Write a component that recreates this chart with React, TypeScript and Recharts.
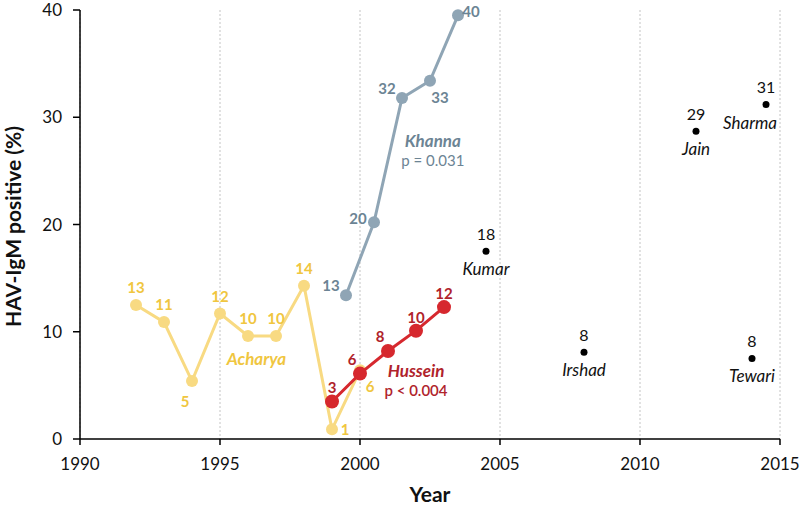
import React from "react";
import {
  CartesianGrid,
  ComposedChart,
  ReferenceDot,
  Scatter,
  XAxis,
  YAxis,
} from "recharts";

// Acharya series (yellow)
const ACHARYA_YEARS = [1992, 1993, 1994, 1995, 1996, 1997, 1998, 1999, 2000];
const ACHARYA_VALUES = [12.5, 10.9, 5.4, 11.7, 9.6, 9.6, 14.3, 0.9, 6.4];
const ACHARYA_LABELS = [13, 11, 5, 12, 10, 10, 14, 1, 6];
const ACHARYA_PLACE = ["above", "above", "belowLeft", "above", "above", "above", "above", "right", "belowRight"];

// Khanna series (slate)
const KHANNA_YEARS = [1999.5, 2000.5, 2001.5, 2002.5, 2003.5];
const KHANNA_VALUES = [13.4, 20.2, 31.8, 33.4, 39.5];
const KHANNA_LABELS = [13, 20, 32, 33, 40];
const KHANNA_PLACE = ["upLeft", "left", "upLeft", "belowRight", "rightHigh"];

// Hussein series (red)
const HUSSEIN_YEARS = [1999, 2000, 2001, 2002, 2003];
const HUSSEIN_VALUES = [3.5, 6.1, 8.2, 10.1, 12.3];
const HUSSEIN_LABELS = [3, 6, 8, 10, 12];
const HUSSEIN_PLACE = ["aboveTight", "upLeftTight", "upLeftTight", "aboveTight", "aboveTight"];

// single studies (black)
const STUDY_NAMES = ["Kumar", "Irshad", "Jain", "Sharma", "Tewari"];
const STUDY_YEARS = [2004.5, 2008, 2012, 2014.5, 2014];
const STUDY_VALUES = [17.5, 8.1, 28.7, 31.2, 7.5];
const STUDY_LABELS = [18, 8, 29, 31, 8];
const STUDY_NAME_PLACE = ["nameBelow", "nameBelow", "nameBelow", "nameBelowLeft", "nameBelow"];

const X_TICKS = [1990, 1995, 2000, 2005, 2010, 2015];
const Y_TICKS = [0, 10, 20, 30, 40];

const FONT = "Lato, 'Open Sans', sans-serif";

const OFFSETS: Record<string, [number, number]> = {
  above: [0, -18],
  aboveTight: [0, -14],
  belowLeft: [-7, 20],
  belowRight: [10, 16],
  right: [13, 0],
  left: [-16, -4],
  upLeft: [-15, -10],
  upLeftTight: [-8, -15],
  rightHigh: [13, -4],
  nameBelow: [0, 17],
  nameBelowLeft: [-16, 18],
};

const toPoints = (xs: number[], ys: number[]) => xs.map((x, i) => ({ x, y: ys[i] }));

function makeShape(
  years: number[],
  labels: number[],
  places: string[],
  dotColor: string,
  textColor: string,
  r: number,
) {
  return (props: any) => {
    const { cx, cy, payload } = props;
    const i = years.indexOf(payload.x);
    const [dx, dy] = OFFSETS[places[i]] || [0, -18];
    return (
      <g>
        <circle cx={cx} cy={cy} r={r} fill={dotColor} />
        <text
          x={cx + dx}
          y={cy + dy}
          textAnchor="middle"
          dominantBaseline="central"
          fill={textColor}
          fontSize={15}
          fontWeight={700}
          fontFamily={FONT}
        >
          {labels[i]}
        </text>
      </g>
    );
  };
}

function studyShape(props: any) {
  const { cx, cy, payload } = props;
  const i = STUDY_YEARS.indexOf(payload.x);
  const [dx, dy] = OFFSETS[STUDY_NAME_PLACE[i]];
  return (
    <g fontFamily={FONT} fontSize={16} fill="#111">
      <circle cx={cx} cy={cy} r={3.5} fill="#000" />
      <text x={cx} y={cy - 18} textAnchor="middle" dominantBaseline="central">
        {STUDY_LABELS[i]}
      </text>
      <text
        x={cx + dx}
        y={cy + dy}
        textAnchor="middle"
        dominantBaseline="central"
        fontStyle="italic"
        fontSize={17}
      >
        {STUDY_NAMES[i]}
      </text>
    </g>
  );
}

function note(text: string, color: string, size: number, weight: number, italic: boolean) {
  return (p: any) => (
    <text
      x={p.cx}
      y={p.cy}
      textAnchor="middle"
      dominantBaseline="central"
      fill={color}
      fontSize={size}
      fontWeight={weight}
      fontStyle={italic ? "italic" : "normal"}
      fontFamily={FONT}
    >
      {text}
    </text>
  );
}

function YLabel(props: any) {
  const { viewBox } = props;
  const x = viewBox.x + 12;
  const y = viewBox.y + viewBox.height / 2 + 2;
  return (
    <text
      x={x}
      y={y}
      transform={`rotate(-90 ${x} ${y})`}
      textAnchor="middle"
      dominantBaseline="central"
      fill="#111"
      fontSize={21}
      fontWeight={700}
      fontFamily={FONT}
    >
      HAV-IgM positive (%)
    </text>
  );
}

const YELLOW_LINE = "#f8da82";
const YELLOW_TEXT = "#f0c640";
const SLATE_LINE = "#8fa5b5";
const SLATE_TEXT = "#6c8494";
const RED_LINE = "#d6282e";
const RED_TEXT = "#b0232b";

export default function App() {
  return (
    <div style={{ position: "absolute", left: 0, top: 0, fontFamily: FONT, background: "#fff" }}>
      <ComposedChart width={800} height={505} margin={{ top: 10, right: 20, left: 0, bottom: 0 }}>
        <CartesianGrid horizontal={false} strokeDasharray="2 2" stroke="#c4c4c4" />
        <XAxis
          type="number"
          dataKey="x"
          domain={[1990, 2015]}
          ticks={X_TICKS}
          allowDataOverflow
          height={66}
          tickSize={6}
          tickMargin={13}
          axisLine={{ stroke: "#000", strokeWidth: 1.5 }}
          tickLine={{ stroke: "#000", strokeWidth: 1.5 }}
          tick={{ fill: "#111", fontSize: 17, fontFamily: FONT }}
          label={{
            value: "Year",
            position: "insideBottom",
            offset: 3,
            fill: "#111",
            fontSize: 21,
            fontWeight: 700,
            fontFamily: FONT,
          }}
        />
        <YAxis
          type="number"
          dataKey="y"
          domain={[0, 40]}
          ticks={Y_TICKS}
          width={80}
          tickSize={7}
          tickMargin={11}
          axisLine={{ stroke: "#000", strokeWidth: 1.5 }}
          tickLine={{ stroke: "#000", strokeWidth: 1.5 }}
          tick={{ fill: "#111", fontSize: 17, fontFamily: FONT }}
          label={<YLabel />}
        />
        <Scatter
          data={toPoints(ACHARYA_YEARS, ACHARYA_VALUES)}
          fill={YELLOW_LINE}
          line={{ stroke: YELLOW_LINE, strokeWidth: 3 }}
          shape={makeShape(ACHARYA_YEARS, ACHARYA_LABELS, ACHARYA_PLACE, YELLOW_LINE, YELLOW_TEXT, 6)}
          isAnimationActive={false}
        />
        <Scatter
          data={toPoints(KHANNA_YEARS, KHANNA_VALUES)}
          fill={SLATE_LINE}
          line={{ stroke: SLATE_LINE, strokeWidth: 3 }}
          shape={makeShape(KHANNA_YEARS, KHANNA_LABELS, KHANNA_PLACE, SLATE_LINE, SLATE_TEXT, 6)}
          isAnimationActive={false}
        />
        <Scatter
          data={toPoints(HUSSEIN_YEARS, HUSSEIN_VALUES)}
          fill={RED_LINE}
          line={{ stroke: RED_LINE, strokeWidth: 3 }}
          shape={makeShape(HUSSEIN_YEARS, HUSSEIN_LABELS, HUSSEIN_PLACE, RED_LINE, RED_TEXT, 7)}
          isAnimationActive={false}
        />
        <Scatter
          data={toPoints(STUDY_YEARS, STUDY_VALUES)}
          fill="#000"
          shape={studyShape}
          isAnimationActive={false}
        />
        <ReferenceDot x={1996.3} y={7.5} r={0} shape={note("Acharya", YELLOW_TEXT, 17, 700, true)} />
        <ReferenceDot x={2002.6} y={27.8} r={0} shape={note("Khanna", SLATE_TEXT, 17, 700, true)} />
        <ReferenceDot x={2002.6} y={26.0} r={0} shape={note("p = 0.031", SLATE_TEXT, 15, 400, false)} />
        <ReferenceDot x={2002.0} y={6.4} r={0} shape={note("Hussein", RED_TEXT, 17, 700, true)} />
        <ReferenceDot x={2002.0} y={4.6} r={0} shape={note("p < 0.004", RED_TEXT, 15, 600, false)} />
      </ComposedChart>
    </div>
  );
}
